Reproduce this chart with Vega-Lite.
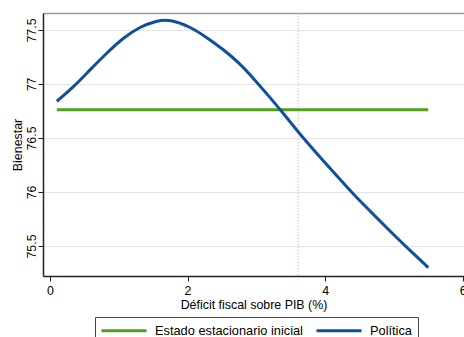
{
  "$schema": "https://vega.github.io/schema/vega-lite/v6.json",
  "autosize": {"type": "none"},
  "padding": {"left": 43, "top": 13, "right": 0, "bottom": 61},
  "width": 421,
  "height": 263,
  "background": "white",
  "config": {
    "font": "Liberation Sans",
    "view": {"stroke": null},
    "axis": {"labelFont": "Liberation Sans", "titleFont": "Liberation Sans", "labelColor": "#000", "titleColor": "#000", "titleFontWeight": "normal"}
  },
  "datasets": {
    "welfare": [
      {"deficit": 0.1, "bienestar": 76.762, "serie": "Estado estacionario inicial"},
      {"deficit": 5.5, "bienestar": 76.762, "serie": "Estado estacionario inicial"},
      {"deficit": 0.1, "bienestar": 76.84, "serie": "Política"},
      {"deficit": 0.34, "bienestar": 76.97, "serie": "Política"},
      {"deficit": 0.58, "bienestar": 77.13, "serie": "Política"},
      {"deficit": 0.83, "bienestar": 77.29, "serie": "Política"},
      {"deficit": 1.07, "bienestar": 77.43, "serie": "Política"},
      {"deficit": 1.31, "bienestar": 77.53, "serie": "Política"},
      {"deficit": 1.55, "bienestar": 77.585, "serie": "Política"},
      {"deficit": 1.74, "bienestar": 77.6, "serie": "Política"},
      {"deficit": 2.04, "bienestar": 77.53, "serie": "Política"},
      {"deficit": 2.28, "bienestar": 77.43, "serie": "Política"},
      {"deficit": 2.52, "bienestar": 77.32, "serie": "Política"},
      {"deficit": 2.76, "bienestar": 77.19, "serie": "Política"},
      {"deficit": 2.96, "bienestar": 77.05, "serie": "Política"},
      {"deficit": 3.2, "bienestar": 76.875, "serie": "Política"},
      {"deficit": 3.44, "bienestar": 76.69, "serie": "Política"},
      {"deficit": 3.68, "bienestar": 76.5, "serie": "Política"},
      {"deficit": 3.93, "bienestar": 76.32, "serie": "Política"},
      {"deficit": 4.17, "bienestar": 76.15, "serie": "Política"},
      {"deficit": 4.41, "bienestar": 75.98, "serie": "Política"},
      {"deficit": 4.66, "bienestar": 75.82, "serie": "Política"},
      {"deficit": 4.9, "bienestar": 75.665, "serie": "Política"},
      {"deficit": 5.14, "bienestar": 75.515, "serie": "Política"},
      {"deficit": 5.5, "bienestar": 75.3, "serie": "Política"}
    ],
    "marker": [{"deficit": 3.61}]
  },
  "resolve": {"axis": {"x": "independent"}},
  "layer": [
    {
      "data": {"name": "marker"},
      "mark": {"type": "rule", "color": "#f2a7ba", "strokeWidth": 1, "strokeDash": [1, 2]},
      "encoding": {
        "x": {
          "field": "deficit", "type": "quantitative",
          "scale": {"domain": [-0.102, 6.02], "nice": false, "zero": false},
          "axis": {"orient": "top", "title": null, "labels": false, "ticks": false, "grid": false, "domainColor": "#9a9a9a", "domainWidth": 1.5}
        }
      }
    },
    {
      "data": {"name": "welfare"},
      "mark": {"type": "line", "strokeWidth": 3, "interpolate": "basis", "strokeCap": "butt"},
      "encoding": {
        "x": {
          "field": "deficit", "type": "quantitative",
          "scale": {"domain": [-0.102, 6.02], "nice": false, "zero": false},
          "axis": {
            "values": [0, 2, 4, 6], "grid": false, "title": "Déficit fiscal sobre PIB (%)",
            "domainColor": "#222", "domainWidth": 1.5, "tickColor": "#222", "tickSize": 5,
            "labelFontSize": 12.4, "labelPadding": 3, "labelFlush": false,
            "titleFontSize": 12.4, "titleBaseline": "alphabetic", "titleY": 32
          }
        },
        "y": {
          "field": "bienestar", "type": "quantitative",
          "scale": {"domain": [75.222, 77.657], "nice": false, "zero": false},
          "axis": {
            "values": [75.5, 76, 76.5, 77, 77.5], "format": "~g", "title": "Bienestar",
            "grid": true, "gridColor": "#e4e4e4", "gridWidth": 1.2,
            "domainColor": "#222", "domainWidth": 1.5, "tickColor": "#222", "tickSize": 5,
            "labelAngle": -90, "labelAlign": "center", "labelBaseline": "alphabetic",
            "labelFontSize": 12.4, "labelPadding": 3, "labelFlush": false,
            "titleFontSize": 12.4, "titleBaseline": "alphabetic", "titleAngle": -90, "titleX": -22
          }
        },
        "color": {
          "field": "serie", "type": "nominal",
          "scale": {"domain": ["Estado estacionario inicial", "Política"], "range": ["#52a01c", "#0e4f9e"]},
          "legend": {
            "title": null, "orient": "none", "legendX": 52, "legendY": 304,
            "direction": "horizontal", "columns": 2, "columnPadding": 7,
            "symbolType": "M-1.1667,0H6.3333", "symbolSize": 144, "symbolStrokeWidth": 3,
            "labelFontSize": 12.8, "labelFont": "Liberation Sans", "labelColor": "#000", "labelOffset": 39,
            "padding": 6, "strokeColor": "#444", "fillColor": "white"
          }
        }
      }
    }
  ]
}
